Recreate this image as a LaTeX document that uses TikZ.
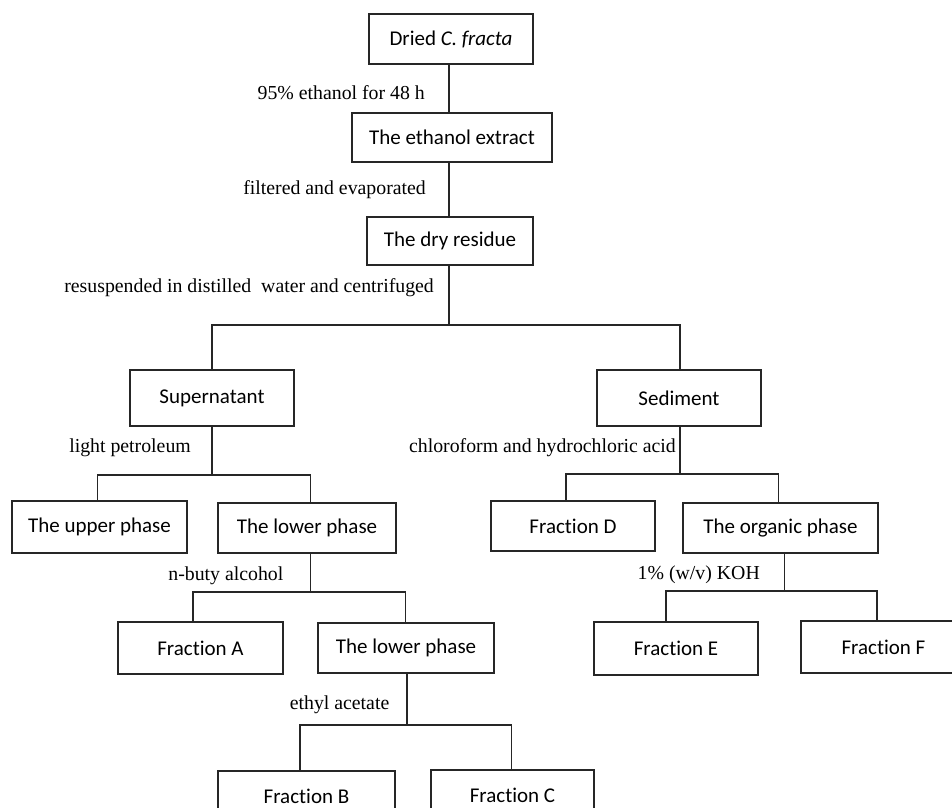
\documentclass[tikz,border=0pt]{standalone}
\usepackage{fontspec}
\setmainfont{Liberation Serif}
\newfontfamily\boxfont[Ligatures=NoCommon]{Carlito}
\begin{document}
\begin{tikzpicture}[x=1pt,y=-1pt,
  stepbox/.style={draw=black!85, line width=1.3pt, inner sep=0pt, anchor=center,
    font=\boxfont\fontsize{21}{24}\selectfont, text=black},
  lbl/.style={inner sep=0pt, anchor=east, font=\fontsize{19.8}{22}\selectfont,
    text height=0.7em, text depth=0.2em, text=black},
  conn/.style={draw=black!85, line width=1.3pt}]
\useasboundingbox[fill=white] (0,0) rectangle (952,807);
\clip (0,0) rectangle (952,807);
% boxes
\node[stepbox, minimum width=164, minimum height=50] (dried) at (451,39) {Dried \textit{C. fracta}};
\node[stepbox, minimum width=200, minimum height=49] (extract) at (452,137.5) {The ethanol extract};
\node[stepbox, minimum width=166, minimum height=48] (residue) at (450,241) {The dry residue};
\node[stepbox, minimum width=164, minimum height=56] (super) at (212,398) {Supernatant};
\node[stepbox, minimum width=164, minimum height=56] (sed) at (679,398) {Sediment};
\node[stepbox, minimum width=175, minimum height=52] (upper) at (99.5,527) {The upper phase};
\node[stepbox, minimum width=178, minimum height=50] (lowerA) at (307,528) {The lower phase};
\node[stepbox, minimum width=164, minimum height=50] (fracD) at (573,526) {Fraction D};
\node[stepbox, minimum width=195, minimum height=50] (organic) at (780.5,528) {The organic phase};
\node[stepbox, minimum width=165, minimum height=52] (fracA) at (200.5,648) {Fraction A};
\node[stepbox, minimum width=176, minimum height=50] (lowerB) at (406,648) {The lower phase};
\node[stepbox, minimum width=164, minimum height=53] (fracE) at (676,648.5) {Fraction E};
\node[stepbox, minimum width=165, minimum height=52] (fracF) at (883.5,647) {Fraction F};
\node[stepbox, minimum width=177, minimum height=51] (fracB) at (306.5,796.5) {Fraction B};
\node[stepbox, minimum width=163, minimum height=50] (fracC) at (512.5,795) {Fraction C};
% labels
\node[lbl] (l1) at (425,97) {95\% ethanol for 48 h};
\node[lbl] (l2) at (426,192) {filtered and evaporated};
\node[lbl] (l3) at (434,289.5) {resuspended in distilled\ \ water and centrifuged};
\node[lbl] (l4) at (191,450) {light petroleum};
\node[lbl] (l5) at (676,450) {chloroform and hydrochloric acid};
\node[lbl] (l6) at (283.5,578) {n-buty alcohol};
\node[lbl] (l7) at (389.5,707) {ethyl acetate};
\node[lbl] (l8) at (760,577) {1\% (w/v) KOH};
% junction coordinates
\coordinate (t1) at (449,0);
\coordinate (j1) at (449,325);  \coordinate (j1l) at (212,325);  \coordinate (j1r) at (680,325);
\coordinate (j2) at (212,475);  \coordinate (j2l) at (97.7,475); \coordinate (j2r) at (310.3,475);
\coordinate (j3) at (310.3,592);\coordinate (j3l) at (193,592);  \coordinate (j3r) at (405.3,592);
\coordinate (j4) at (407,725);  \coordinate (j4l) at (300,725);  \coordinate (j4r) at (511.7,725);
\coordinate (j5) at (680,474);  \coordinate (j5l) at (566,474);  \coordinate (j5r) at (778.7,474);
\coordinate (j6) at (784.3,591);\coordinate (j6l) at (666,591);  \coordinate (j6r) at (877,591);
% connectors
\draw[conn] (t1 |- dried.south) -- (t1 |- extract.north);
\draw[conn] (t1 |- extract.south) -- (t1 |- residue.north);
\draw[conn] (j1 |- residue.south) -- (j1);
\draw[conn] (j1l |- super.north) -- (j1l) -- (j1r) -- (j1r |- sed.north);
\draw[conn] (j2 |- super.south) -- (j2);
\draw[conn] (j2l |- upper.north) -- (j2l) -- (j2r) -- (j2r |- lowerA.north);
\draw[conn] (j3 |- lowerA.south) -- (j3);
\draw[conn] (j3l |- fracA.north) -- (j3l) -- (j3r) -- (j3r |- lowerB.north);
\draw[conn] (j4 |- lowerB.south) -- (j4);
\draw[conn] (j4l |- fracB.north) -- (j4l) -- (j4r) -- (j4r |- fracC.north);
\draw[conn] (j5 |- sed.south) -- (j5);
\draw[conn] (j5l |- fracD.north) -- (j5l) -- (j5r) -- (j5r |- organic.north);
\draw[conn] (j6 |- organic.south) -- (j6);
\draw[conn] (j6l |- fracE.north) -- (j6l) -- (j6r) -- (j6r |- fracF.north);
\end{tikzpicture}
\end{document}
